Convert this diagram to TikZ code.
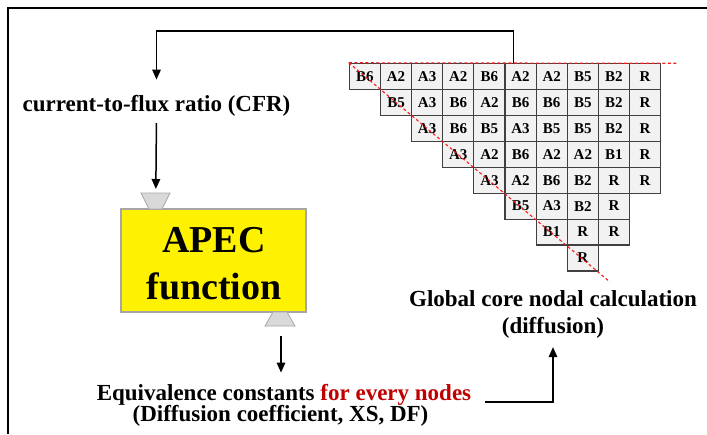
\documentclass[tikz,border=0pt]{standalone}
\usepackage{fontspec}
\setmainfont{Liberation Serif}
\usetikzlibrary{arrows.meta}
\definecolor{cellfill}{HTML}{F2F2F2}
\definecolor{cellline}{HTML}{404040}
\definecolor{tabgray}{HTML}{D9D9D9}
\definecolor{tabline}{HTML}{A6A6A6}
\definecolor{boxline}{HTML}{A6A6A6}
\definecolor{darkred}{HTML}{C00000}
\definecolor{cutred}{HTML}{FF1A1A}
\begin{document}
\begin{tikzpicture}[x=1pt,y=-1pt,
  lbl/.style={font=\fontsize{23}{27}\selectfont\bfseries, inner sep=0pt, anchor=base},
  big/.style={font=\fontsize{38}{44}\selectfont\bfseries, inner sep=0pt, anchor=base},
  flow/.style={line width=1.5pt, -{Triangle[length=10pt,width=8.5pt]}},
  cell/.style={draw=cellline, fill=cellfill, line width=1.1pt,
    minimum width=31.14pt, minimum height=25.96pt, inner sep=0pt,
    font=\fontsize{15}{16}\selectfont\bfseries},
  tab/.style={fill=tabgray, draw=tabline, line width=0.8pt},
  cut/.style={cutred, line width=1.1pt, dash pattern=on 3pt off 2.5pt}]
\useasboundingbox (0,0) rectangle (707,434);

% outer frame (top and left edges only)
\draw[line width=2pt] (7.8,434) -- (7.8,7.5) -- (707,7.5);

% core map: one row per line, first column index, assembly codes
\foreach \row/\first/\codes in {
  1/0/{B6,A2,A3,A2,B6,A2,A2,B5,B2,R},
  2/1/{B5,A3,B6,A2,B6,B6,B5,B2,R},
  3/2/{A3,B6,B5,A3,B5,B5,B2,R},
  4/3/{A3,A2,B6,A2,A2,B1,R},
  5/4/{A3,A2,B6,B2,R,R},
  6/5/{B5,A3,B2,R},
  7/6/{B1,R,R},
  8/7/{R}}{
  \foreach \code [count=\col from \first] in \codes {
    \node[cell] (c-\row-\col) at ({349.3+(\col+0.5)*31.14},{63.3+(\row-0.5)*25.96}) {\code};
  }
}
% symmetry lines
\draw[cut] (c-1-0.north west) -- (677,63.3);
\draw[cut] (c-1-0.north west) -- (610,282);

% APEC block with its two gray tabs
\node[draw=boxline, fill=yellow, line width=1.5pt, minimum width=185pt,
      minimum height=103pt, inner sep=0pt] (apec) at (213.5,260.5) {};
\node[big] (apec1) at (213.8,252) {APEC};
\node[big] (apec2) at (214,299) {function};
\draw[tab] (141,193) -- (170,193) -- (162,209) -- (149,209) -- cycle;
\draw[tab] (273,312) -- (287,312) -- (295,326) -- (265,326) -- cycle;
\coordinate (inTab) at (155.8,193);
\coordinate (outTab) at (281,326);

% labels
\node[lbl] (cfr) at (156.5,111) {current-to-flux ratio (CFR)};
\node[lbl] (eq1) at (284,400) {Equivalence constants \textcolor{darkred}{for every nodes}};
\node[lbl] (eq2) at (280.5,421) {(Diffusion coefficient, XS, DF)};
\node[lbl] (gl1) at (553,306) {Global core nodal calculation};
\node[lbl] (gl2) at (553,333) {(diffusion)};

% connectors
\coordinate (mapTop) at (513.5,63.3);
\coordinate (eqOut) at (485,402);
\draw[flow, shorten >=15pt] (mapTop) -- (513.5,31) -| (cfr.north);
\draw[flow, shorten <=7pt, shorten >=4pt] (cfr.south) -- (inTab);
\draw[flow, shorten <=10pt, shorten >=11pt] (outTab) -- (eq1.north -| outTab);
\draw[flow, shorten >=9pt] (eqOut) -| (gl2.south);
\end{tikzpicture}
\end{document}
